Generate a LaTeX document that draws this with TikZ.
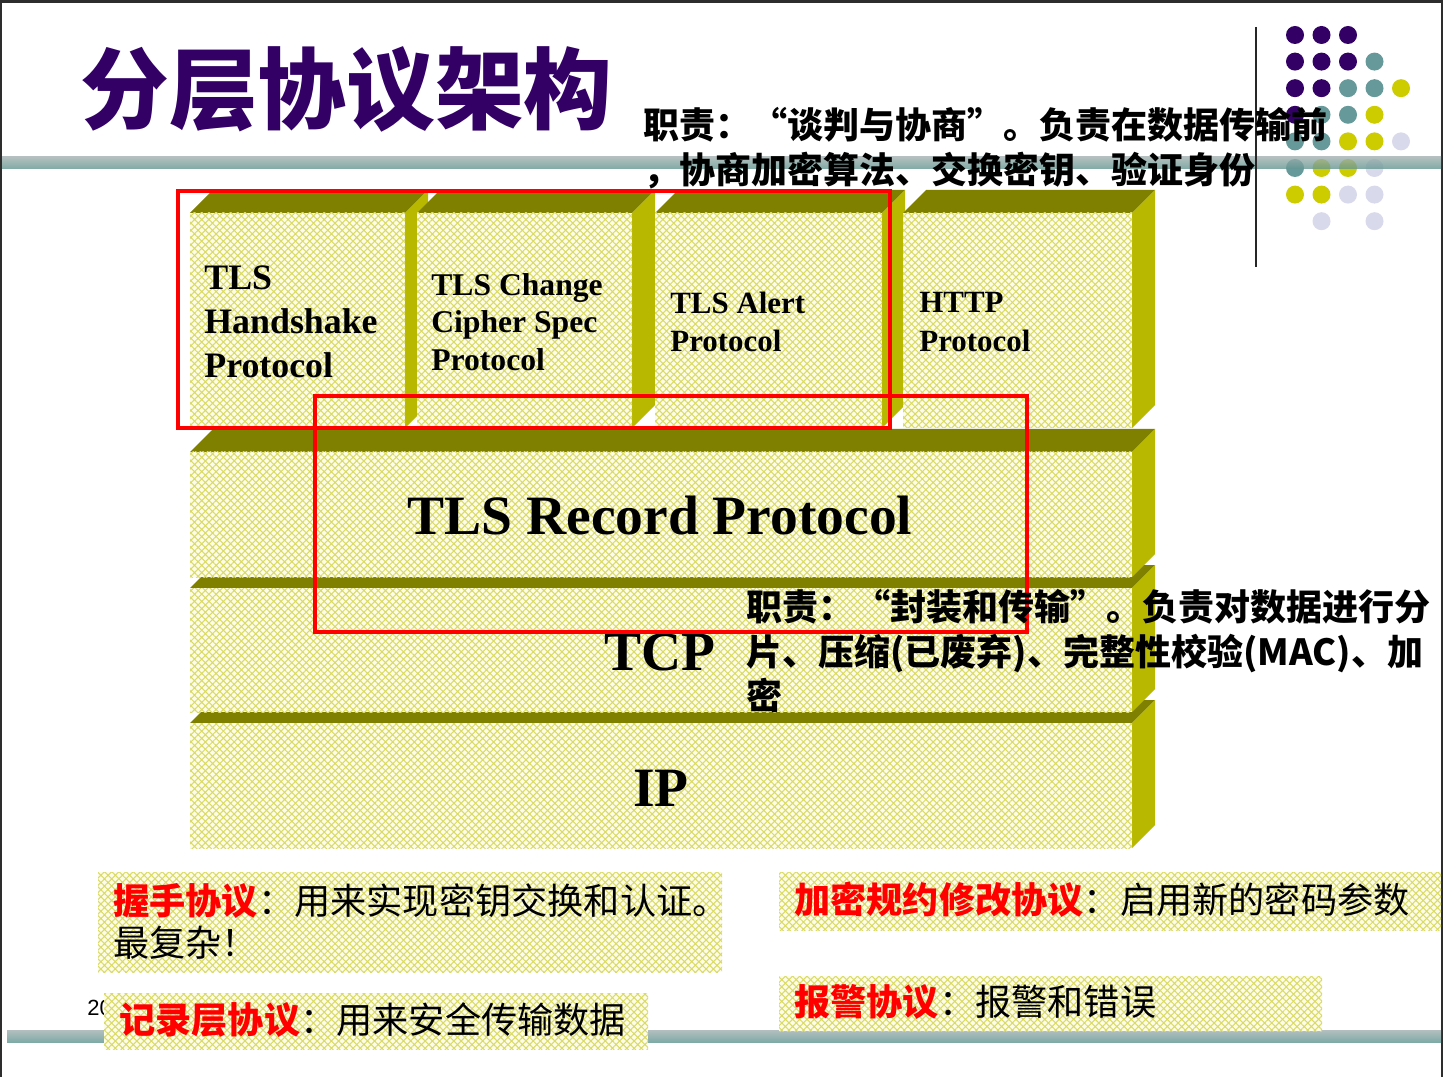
\documentclass[tikz,border=0pt]{standalone}
\usepackage{fontspec}
\setmainfont{Liberation Serif}
\newfontfamily\cjk{Noto Sans CJK SC}
\newfontfamily\arialfont{Liberation Sans}
\usetikzlibrary{patterns.meta}
\definecolor{titlepurple}{RGB}{51,0,102}
\definecolor{dotteal}{RGB}{102,153,153}
\definecolor{dotyellow}{RGB}{204,204,0}
\definecolor{dotlilac}{RGB}{217,217,236}
\definecolor{topolive}{RGB}{128,128,0}
\definecolor{sideolive}{RGB}{184,184,0}
\definecolor{hatchbg}{RGB}{252,252,232}
\definecolor{hatchline}{RGB}{218,218,105}
\definecolor{rulegray}{RGB}{160,175,175}
\definecolor{ruleteal}{RGB}{96,150,145}
\definecolor{framegray}{RGB}{45,45,45}

\begin{document}
\begin{tikzpicture}[x=0.02cm, y=-0.02cm,
    topface/.style={fill=topolive},
    sideface/.style={fill=sideolive},
    hatched/.style={fill=hatchbg, postaction={pattern={Hatch[angle=45,distance=2.9pt,line width=0.6pt]}, pattern color=hatchline}},
    redframe/.style={draw=red, line width=2.3pt},
    hrule/.style={top color=rulegray, middle color=gray!8, bottom color=ruleteal, opacity=0.8},
    boxlabel/.style={font=\bfseries, align=left, anchor=west, inner sep=0pt},
    layerlabel/.style={font=\fontsize{31.6}{36}\selectfont\bfseries, inner sep=0pt},
    duty/.style={font=\cjk\bfseries\fontsize{20.5}{25.3}\selectfont, align=left, anchor=west, inner sep=0pt},
    note/.style={font=\cjk\fontsize{20.6}{23.8}\selectfont, align=left, anchor=west, inner sep=0pt}]
    \useasboundingbox (0,0) rectangle (1443,1077);
    \fill[white] (0,0) rectangle (1443,1077);
    \fill[framegray] (0,0) rectangle (1443,3);
    \fill[framegray] (0,0) rectangle (2,1077);
    \fill[framegray] (1441,0) rectangle (1443,1077);

    \foreach \cc/\rr/\dc in {1/1/titlepurple,2/1/titlepurple,3/1/titlepurple,
        1/2/titlepurple,2/2/titlepurple,3/2/titlepurple,4/2/dotteal,
        1/3/titlepurple,2/3/titlepurple,3/3/dotteal,4/3/dotteal,5/3/dotyellow,
        1/4/titlepurple,2/4/dotteal,3/4/dotteal,4/4/dotyellow,
        1/5/dotteal,2/5/dotteal,3/5/dotyellow,4/5/dotyellow,5/5/dotlilac,
        1/6/dotteal,2/6/dotyellow,3/6/dotyellow,4/6/dotlilac,
        1/7/dotyellow,2/7/dotyellow,3/7/dotlilac,4/7/dotlilac,
        2/8/dotlilac,4/8/dotlilac}
        \fill[\dc] ({1295+26.5*(\cc-1)},{35+26.6*(\rr-1)}) circle[radius=9];
    \shade[hrule] (2,157) rectangle (1441,169);
    \draw[gray!30!black, line width=1.1pt] (1256,27) -- (1256,267);

    \node[text=titlepurple, font=\cjk\bfseries\fontsize{50.5}{56}\selectfont, anchor=west, inner sep=0pt] (title) at (80,89) {分层协议架构};

    \foreach \xa/\xb/\ya/\yb in {190/1132/723/848, 190/1132/588/712, 190/1132/452/577,
        190/405/213/428, 417/632/213/428, 655/882/213/428, 903/1132/213/428} {
        \fill[topface] (\xa,\ya) -- ++(23,-23) -- (\xb+23,\ya-23) -- (\xb,\ya) -- cycle;
        \fill[sideface] (\xb,\ya) -- (\xb+23,\ya-23) -- (\xb+23,\yb-23) -- (\xb,\yb) -- cycle;
        \path[hatched] (\xa,\ya) rectangle (\xb,\yb);
    }

    \node[boxlabel, font=\fontsize{20.4}{25}\selectfont\bfseries] (handshake) at (204,322) {TLS\\Handshake\\Protocol};
    \node[boxlabel, font=\fontsize{18}{21.5}\selectfont\bfseries] (changecipher) at (431,322) {TLS Change\\Cipher Spec\\Protocol};
    \node[boxlabel, font=\fontsize{17.6}{21.8}\selectfont\bfseries] (alert) at (670,322) {TLS Alert\\Protocol};
    \node[boxlabel, font=\fontsize{17.6}{21.8}\selectfont\bfseries] (http) at (919,322) {HTTP\\Protocol};
    \node[layerlabel] (record) at (660,516) {TLS Record Protocol};
    \node[layerlabel] (tcp) at (660,652) {TCP};
    \node[layerlabel] (ip) at (661,788) {IP};

    \draw[redframe] (178,191) rectangle (890,428);
    \draw[redframe] (315,396) rectangle (1027,632);

    \node[duty] (handshakeduty) at (643,148) {职责：“谈判与协商”。负责在数据传输前\\，协商加密算法、交换密钥、验证身份};
    \node[duty] (recordduty) at (746,651) {职责：“封装和传输”。负责对数据进行分\\片、压缩(已废弃)、完整性校验(MAC)、加\\密};

    \shade[hrule] (7,1030) rectangle (1441,1042);
    \node[font=\arialfont\fontsize{12.5}{14}\selectfont, anchor=west, inner sep=0pt] (pagenum) at (87,1008) {20};

    \path[hatched] (98,872) rectangle (722,972);
    \path[hatched] (104,993) rectangle (648,1049);
    \path[hatched] (779,872) rectangle (1441,930);
    \path[hatched] (779,976) rectangle (1322,1031);
    \node[note] (handshakenote) at (113,921) {\textcolor{red}{\bfseries 握手协议}：用来实现密钥交换和认证。\\最复杂！};
    \node[note] (recordnote) at (119,1020) {\textcolor{red}{\bfseries 记录层协议}：用来安全传输数据};
    \node[note] (changenote) at (794,900) {\textcolor{red}{\bfseries 加密规约修改协议}：启用新的密码参数};
    \node[note] (alertnote) at (794,1002) {\textcolor{red}{\bfseries 报警协议}：报警和错误};
\end{tikzpicture}
\end{document}
